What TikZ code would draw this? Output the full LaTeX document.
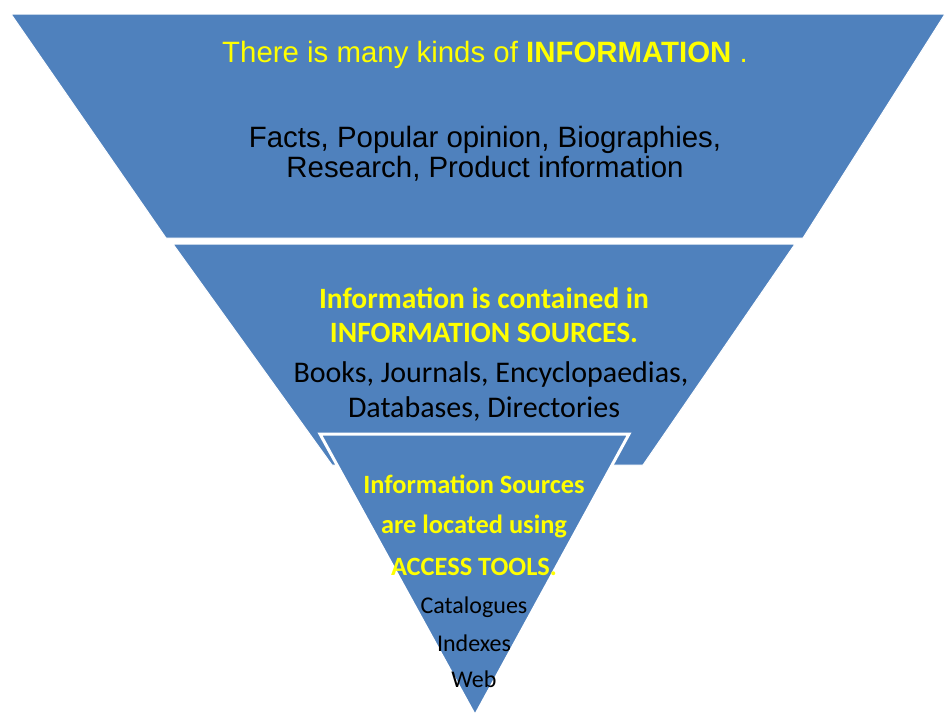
\documentclass[tikz,border=0pt]{standalone}
\usepackage{fontspec}
\setmainfont{Carlito}
\newfontfamily\arialfont{Liberation Sans}
\definecolor{tierblue}{RGB}{79,129,189}
\definecolor{tieryellow}{RGB}{255,255,0}
\begin{document}
\begin{tikzpicture}[x=1pt,y=-1pt,
  tier/.style={fill=tierblue,draw=white,line width=1pt,line join=miter},
  apex/.style={fill=tierblue,draw=white,line width=3pt,line join=miter},
  topline/.style={anchor=base,inner sep=0pt,font=\arialfont\fontsize{29.4}{29.4}\selectfont},
  midhead/.style={anchor=base,inner sep=0pt,font=\bfseries\fontsize{29.5}{29.5}\selectfont,text=tieryellow},
  midline/.style={anchor=base,inner sep=0pt,font=\fontsize{30}{30}\selectfont},
  lowhead/.style={anchor=base,inner sep=0pt,font=\bfseries\fontsize{26.4}{26.4}\selectfont,text=tieryellow},
  lowline/.style={anchor=base,inner sep=0pt,font=\fontsize{24}{24}\selectfont}]
\useasboundingbox (0,0) rectangle (945,720);

% inverted pyramid tiers
\path[tier] (11,14) -- (945,14) -- (803,238) -- (166,238) -- cycle;
\path[tier] (173,244) -- (795,244) -- (643,465) -- (332,465) -- cycle;
\path[apex] (320,434) -- (629,434) -- (475,716) -- cycle;

% top tier
\node[topline,text=tieryellow] (kinds) at (485,62) {There is many kinds of \textbf{INFORMATION} .};
\node[topline] (facts) at (485,147) {Facts, Popular opinion, Biographies,};
\node[topline] (research) at (485,177) {Research, Product information};

% middle tier
\node[midhead] (contained) at (484,308) {Information is contained in};
\node[midhead] (sources) at (484,342) {INFORMATION SOURCES.};
\node[midline] (books) at (491,382) {Books, Journals, Encyclopaedias,};
\node[midline] (databases) at (484,417) {Databases, Directories};

% bottom tier
\node[lowhead] (located1) at (474,493) {Information Sources};
\node[lowhead] (located2) at (474,533) {are located using};
\node[lowhead] (tools) at (474,575) {ACCESS TOOLS.};
\node[lowline] (catalogues) at (474,613) {Catalogues};
\node[lowline] (indexes) at (474,651) {Indexes};
\node[lowline] (web) at (474,687) {Web};
\end{tikzpicture}
\end{document}
